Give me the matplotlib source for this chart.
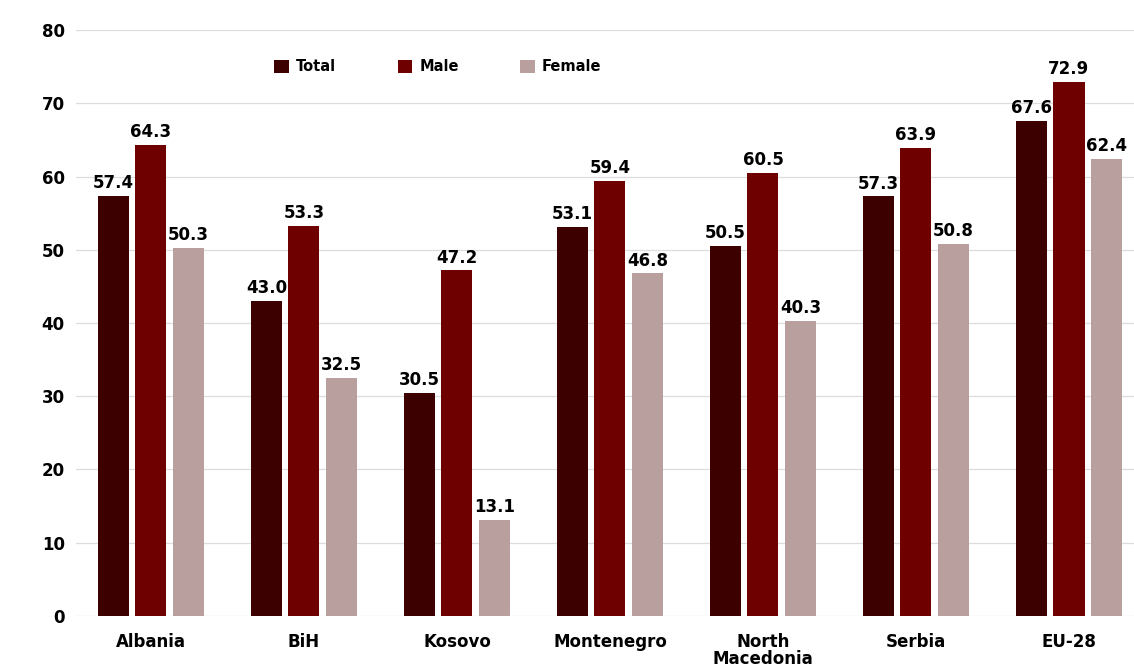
import matplotlib.pyplot as plt
import numpy as np

# employment rates by country and sex
countries = ["Albania", "BiH", "Kosovo", "Montenegro", "North\nMacedonia", "Serbia", "EU-28"]
total = [57.4, 43.0, 30.5, 53.1, 50.5, 57.3, 67.6]
male = [64.3, 53.3, 47.2, 59.4, 60.5, 63.9, 72.9]
female = [50.3, 32.5, 13.1, 46.8, 40.3, 50.8, 62.4]

series = [("Total", total, "#3c0000"), ("Male", male, "#6e0000"), ("Female", female, "#b9a09f")]

plt.rcParams["font.family"] = ["DejaVu Sans"]
plt.rcParams["font.weight"] = "bold"

fig = plt.figure(figsize=(11.34, 6.68), dpi=100)
ax = fig.add_axes([0.067, 0.078, 0.933, 0.877])

x = np.arange(len(countries))
width = 0.203
step = 0.245
for i, (name, vals, color) in enumerate(series):
    pos = x + (i - 1) * step
    bars = ax.bar(pos, vals, width=width, color=color, label=name, zorder=3)
    for b, v in zip(bars, vals):
        ax.text(b.get_x() + b.get_width() / 2, v + 0.5, f"{v:.1f}",
                ha="center", va="bottom", fontsize=12, weight=700,
                family="DejaVu Sans", color="black")

ax.set_ylim(0, 80)
ax.set_xlim(-0.49, 6.425)
ax.set_yticks(range(0, 81, 10))
ax.set_xticks(x)
ax.set_xticklabels(countries, fontsize=12, fontweight="bold", linespacing=0.95)
ax.tick_params(axis="y", labelsize=12, length=0, pad=8)
ax.tick_params(axis="x", length=0, pad=12)
for lbl in ax.get_yticklabels():
    lbl.set_fontweight("bold")
ax.grid(axis="y", color="#dddddd", linewidth=0.9, zorder=0)
for s in ax.spines.values():
    s.set_visible(False)

leg = ax.legend(loc="center left", bbox_to_anchor=(0.175, 0.937), ncol=3, frameon=False,
                handlelength=1.0, handleheight=1.0, columnspacing=4.2, handletextpad=0.5,
                prop={"weight": "bold", "size": 10.5})

fig.savefig("out.png", dpi=100)
